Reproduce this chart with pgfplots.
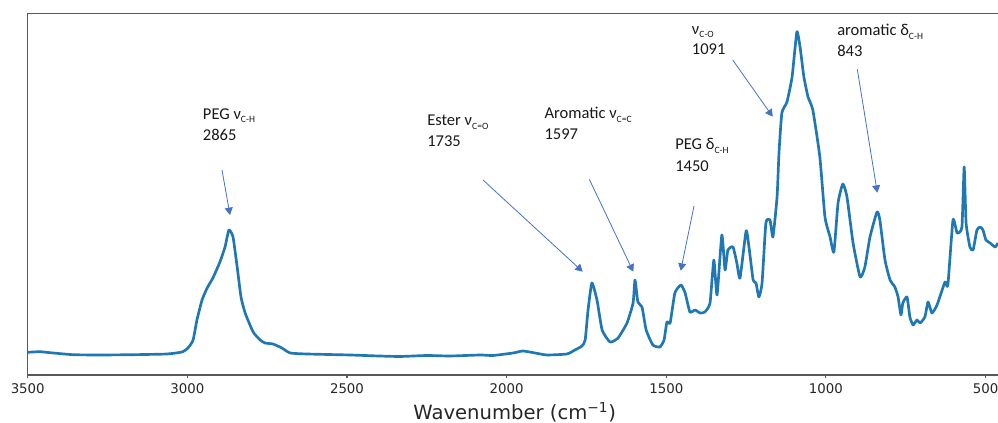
\documentclass[border=0pt]{standalone}
\usepackage{pgfplots}
\pgfplotsset{compat=1.18}
\usepackage{pgfplotstable}
\usepackage{fontspec}
\setmainfont{Carlito}
\newfontfamily\dejavu{DejaVu Sans}
\usetikzlibrary{arrows.meta}
\definecolor{specblue}{HTML}{1F77B4}
\definecolor{arrowblue}{HTML}{4472C4}
\newcommand{\sub}[1]{\raisebox{-2.5pt}{\fontsize{7.2}{8}\selectfont #1}}

\pgfplotstableread{
w v
3500 22.7
3462 23.3
3430 22.3
3358 20.3
3274 20.0
3170 20.3
3064 21.0
3017 23.0
2998 27.0
2982 35.0
2970 55.0
2954 75.0
2938 87.0
2920 97.0
2898 113.0
2882 128.0
2870 145.0
2857 138.0
2844 108.0
2832 78.0
2819 62.0
2794 43.0
2772 35.0
2757 32.0
2732 31.0
2704 27.0
2678 22.0
2625 21.0
2491 20.0
2400 19.0
2334 18.5
2250 19.5
2177 19.0
2083 20.0
2043 19.5
1980 22.0
1949 24.0
1911 22.0
1874 20.0
1811 21.0
1786 25.0
1764 29.0
1754 35.0
1745 65.0
1733 92.0
1717 75.0
1701 45.0
1676 33.0
1651 37.0
1623 52.0
1604 72.0
1598 95.0
1589 73.0
1576 68.0
1563 45.0
1542 30.0
1520 28.0
1507 35.0
1498 53.0
1488 52.0
1473 82.0
1454 90.0
1441 82.0
1426 63.0
1410 65.0
1394 62.0
1379 63.0
1363 72.0
1351 115.0
1341 80.0
1326 140.0
1316 105.0
1307 125.0
1291 128.0
1279 112.0
1269 97.0
1250 144.0
1241 128.0
1228 95.0
1219 92.0
1210 78.0
1200 92.0
1188 152.0
1175 155.0
1166 138.0
1153 178.0
1147 222.0
1138 262.0
1122 273.0
1106 298.0
1091 343.0
1081 328.0
1069 298.0
1056 278.0
1041 265.0
1019 218.0
1003 158.0
987 138.0
975 123.0
962 172.0
947 191.0
934 178.0
915 132.0
893 98.0
878 108.0
862 138.0
840 163.0
831 155.0
815 115.0
799 95.0
784 88.0
774 78.0
765 60.0
759 72.0
746 78.0
737 58.0
727 50.0
715 55.0
705 52.0
690 58.0
680 73.0
668 62.0
652 70.0
627 93.0
618 90.0
602 155.0
589 142.0
574 148.0
567 208.0
561 152.0
549 128.0
539 125.0
527 145.0
517 148.0
508 145.0
499 135.0
486 132.0
470 128.0
461 132.0
}\spectrum

\begin{document}
\begin{tikzpicture}
\path[use as bounding box] (0,0) rectangle (748.5pt,317.25pt);
\begin{axis}[
  at={(20.8pt,36pt)}, anchor=south west,
  width=727.7pt, height=271.3pt, scale only axis,
  x dir=reverse, xmin=461, xmax=3500, ymin=0, ymax=361.7,
  xtick={500,1000,1500,2000,2500,3000,3500}, ytick=\empty,
  axis y line*=left,
  xtick pos=bottom, tick align=outside, major tick length=2.6pt,
  axis line style={black!65, line width=0.9pt},
  tick style={black!65, line width=0.8pt},
  /pgf/number format/assume math mode=true,
  /pgf/number format/1000 sep={},
  xticklabel style={font=\dejavu\fontsize{10}{12}\selectfont, text=black!85},
  clip=false,
]
\addplot[specblue, line width=2pt, line join=round, smooth, tension=0.3] table[x=w, y=v] {\spectrum};
\end{axis}
\begin{scope}[x=0.75pt, y=-0.75pt, shift={(0pt,317.25pt)}]
\node[anchor=base, inner sep=0, font=\dejavu\fontsize{14.7}{16}\selectfont, text=black!85] at (514.7,419.3) {Wavenumber (cm\textsuperscript{−1})};
\begin{scope}[every node/.style={anchor=base west, inner sep=0, font=\fontsize{12.4}{15}\selectfont, text=black!90}]
\node at (202.7,119.3) {PEG ν\sub{C-H}};
\node at (202.7,140.7) {2865};
\node at (427,126) {Ester ν\sub{C=O}};
\node at (427,146.7) {1735};
\node at (544.3,118.7) {Aromatic ν\sub{C=C}};
\node at (544.3,140) {1597};
\node at (675,150) {PEG δ\sub{C-H}};
\node at (675,171.7) {1450};
\node at (691.7,34.5) {ν\sub{C-O}};
\node at (691.7,55) {1091};
\node at (837,36) {aromatic δ\sub{C-H}};
\node at (837,56.7) {843};
\end{scope}
\begin{scope}[arrowblue, line width=0.6pt, -{Triangle[length=5.5pt,width=6pt]}]
\draw (222,170) -- (230,215);
\draw (483,180) -- (582.7,271.7);
\draw (589.3,179.3) -- (633.3,271.7);
\draw (694,206) -- (680.7,270.7);
\draw (732.7,60) -- (772.7,116.7);
\draw (857.3,69.3) -- (877.3,192.7);
\end{scope}
\end{scope}
\end{tikzpicture}
\end{document}
